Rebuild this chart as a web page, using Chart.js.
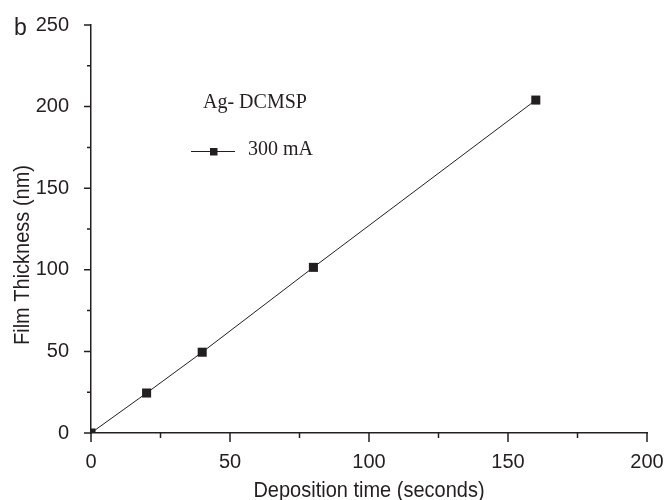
<!DOCTYPE html>
<html>
<head>
<meta charset="utf-8">
<script src="https://cdn.jsdelivr.net/npm/chart.js@4/dist/chart.umd.min.js"></script>
<style>
  html, body { margin:0; padding:0; background:#fff; }
  #wrap { width:668px; height:500px; }
</style>
</head>
<body>
<div id="wrap"><canvas id="thicknessChart" width="668" height="500"></canvas></div>
<script>
(function() {

  // ─── DATA ───
  const depositionTime = [0, 20, 40, 80, 160];
  const filmThickness  = [0, 24.5, 49.5, 101.5, 204];
  const xMajorTicks = [0, 50, 100, 150, 200];
  const yMajorTicks = [0, 50, 100, 150, 200, 250];
  const seriesLabel = '300 mA';
  const noteLabel   = 'Ag- DCMSP';
  const panelLabel  = 'b';

  const INK = '#231f20';
  const SANS = '"Liberation Sans", Arial, sans-serif';
  const SERIF = '"Liberation Serif", "Times New Roman", serif';

  // tick marks (major + minor), axis titles, panel letter, inline legend
  const decor = {
    id: 'decor',
    afterDraw(chart) {
      const ctx = chart.ctx;
      const xs = chart.scales.x, ys = chart.scales.y;
      const area = chart.chartArea;
      ctx.save();
      ctx.strokeStyle = INK;
      ctx.lineWidth = 1.5;
      ctx.beginPath();
      xs.ticks.forEach(t => {
        const px = xs.getPixelForValue(t.value);
        const len = xMajorTicks.includes(t.value) ? 9 : 5;
        ctx.moveTo(px, area.bottom);
        ctx.lineTo(px, area.bottom + len);
      });
      ys.ticks.forEach(t => {
        const py = ys.getPixelForValue(t.value);
        const len = yMajorTicks.includes(t.value) ? 7 : 4;
        ctx.moveTo(area.left, py);
        ctx.lineTo(area.left - len, py);
      });
      ctx.stroke();

      ctx.fillStyle = INK;
      // x title (source art is slightly stretched vertically)
      ctx.font = '20px ' + SANS;
      ctx.textAlign = 'center';
      ctx.textBaseline = 'alphabetic';
      ctx.save();
      ctx.translate((area.left + area.right) / 2, 497);
      ctx.scale(1, 1.12);
      ctx.fillText('Deposition time (seconds)', 0, 0);
      ctx.restore();
      // y title
      ctx.save();
      ctx.translate(29, 255);
      ctx.rotate(-Math.PI / 2);
      ctx.scale(1, 1.12);
      ctx.fillText('Film Thickness (nm)', 0, 0);
      ctx.restore();
      // panel letter
      ctx.font = '23px ' + SANS;
      ctx.textAlign = 'left';
      ctx.fillText(panelLabel, 14, 35);

      // legend text
      ctx.font = '20px ' + SERIF;
      ctx.fillText(noteLabel, 203, 108);
      ctx.fillText(seriesLabel, 248, 155);
      ctx.lineWidth = 1;
      ctx.beginPath();
      ctx.moveTo(191, 151.5);
      ctx.lineTo(235, 151.5);
      ctx.stroke();
      ctx.fillRect(210, 148, 7.5, 7.5);
      ctx.restore();
    }
  };

  new Chart(document.getElementById('thicknessChart'), {
    type: 'line',
    data: {
      datasets: [{
        label: seriesLabel,
        data: depositionTime.map((t, i) => ({ x: t, y: filmThickness[i] })),
        borderColor: INK,
        borderWidth: 1,
        backgroundColor: INK,
        pointStyle: 'rect',
        pointRadius: 6.4,
        pointBorderWidth: 0,
        pointBackgroundColor: INK,
        tension: 0,
        fill: false
      }]
    },
    options: {
      responsive: false,
      animation: false,
      layout: { padding: { top: 25, right: 21, left: 0, bottom: 0 } },
      plugins: { legend: { display: false }, tooltip: { enabled: false } },
      scales: {
        x: {
          type: 'linear', min: 0, max: 200,
          afterFit: s => { s.height = 67; s.paddingLeft = 0; s.paddingRight = 0; },
          grid: { display: false },
          border: { display: true, color: INK, width: 1.5 },
          ticks: {
            stepSize: 25, padding: 9, color: INK, maxRotation: 0, autoSkip: false,
            font: { family: SANS, size: 20 },
            callback: v => xMajorTicks.includes(v) ? String(v) : ''
          }
        },
        y: {
          type: 'linear', min: 0, max: 250,
          afterFit: s => { s.width = 91; s.paddingTop = 0; s.paddingBottom = 0; },
          grid: { display: false },
          border: { display: true, color: INK, width: 1.5 },
          ticks: {
            stepSize: 25, padding: 14, color: INK, autoSkip: false,
            font: { family: SANS, size: 20 },
            callback: v => yMajorTicks.includes(v) ? String(v) : ''
          }
        }
      }
    },
    plugins: [decor]
  });

})();
</script>
</body>
</html>
